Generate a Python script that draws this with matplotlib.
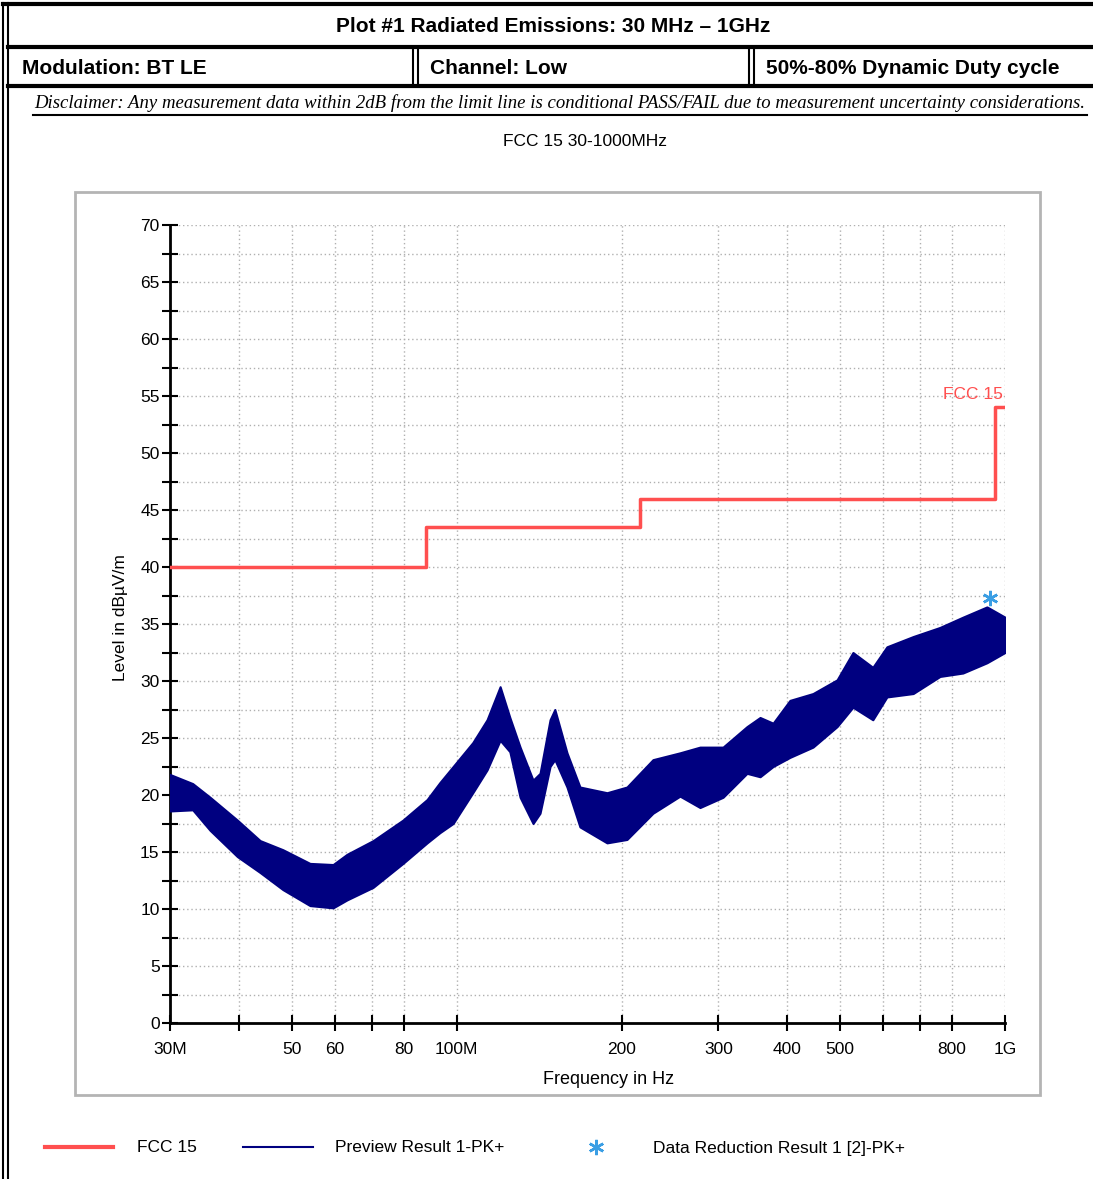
import numpy as np
import matplotlib
matplotlib.use("Agg")
import matplotlib.pyplot as plt
from matplotlib.ticker import FixedLocator, FixedFormatter, NullFormatter

W, H = 1093, 1179

# ── Data ──────────────────────────────────────────────────
limit_freq = [30, 88, 88, 216, 216, 960, 960, 1000]
limit_level = [40, 40, 43.5, 43.5, 46, 46, 54, 54]

# envelope of the preview trace (MHz, dBuV/m)
trace_freq = [30, 33, 35.5, 39.8, 43.8, 48.2, 54, 59.5, 63.1, 70.4, 79.8,
              88.3, 93.2, 98.5, 107, 113.6, 120, 125, 130.5, 137.8, 141.9,
              148, 151, 158.9, 167.8, 188, 204.4, 228, 255.4, 277.8, 306,
              338.4, 357.5, 377.6, 405.3, 446.5, 494, 528, 574, 609, 680,
              761, 838, 927, 1000]
trace_hi = [21.8, 21.0, 19.8, 17.8, 16.0, 15.2, 14.0, 13.9, 14.8, 16.0, 17.8,
            19.6, 21.1, 22.5, 24.6, 26.6, 29.5, 26.8, 24.2, 21.3, 21.9,
            26.6, 27.5, 23.7, 20.7, 20.2, 20.7, 23.1, 23.7, 24.2, 24.2,
            26.0, 26.8, 26.3, 28.3, 28.9, 30.1, 32.5, 31.2, 33.0, 33.9,
            34.7, 35.6, 36.5, 35.6]
trace_lo = [18.6, 18.7, 16.9, 14.6, 13.2, 11.7, 10.3, 10.1, 10.8, 11.9, 14.0,
            15.8, 16.7, 17.5, 20.2, 22.2, 24.8, 23.8, 19.8, 17.5, 18.4,
            22.5, 23.1, 20.7, 17.2, 15.8, 16.1, 18.4, 19.9, 18.9, 19.8,
            21.9, 21.6, 22.5, 23.3, 24.2, 26.0, 27.7, 26.6, 28.6, 28.9,
            30.4, 30.7, 31.6, 32.5]

peak_freq = [939]
peak_level = [37.3]

y_major = list(range(0, 75, 5))
y_minor = [v + 2.5 for v in range(0, 70, 5)]
x_major = [30, 50, 60, 80, 100, 200, 300, 400, 500, 800, 1000]
x_labels = ["30M", "50", "60", "80", "100M", "200", "300", "400", "500", "800", "1G"]
x_minor = [40, 70, 600, 700]

RED = "#ff4f4f"
NAVY = "#000080"
STAR = "#3a9ee4"
SANS = ["Liberation Sans", "DejaVu Sans"]
SERIF = ["Liberation Serif", "DejaVu Serif"]

plt.rcParams["font.family"] = SANS

fig = plt.figure(figsize=(W / 100, H / 100), dpi=100)

# ── Overlay in pixel coordinates for the report header ───
ov = fig.add_axes([0, 0, 1, 1])
ov.set_xlim(0, W)
ov.set_ylim(H, 0)
ov.axis("off")

# frame lines
ov.plot([3, 3], [3, H], color="black", lw=1.5)
ov.plot([8, 8], [3, H], color="black", lw=1.5)
ov.plot([3, W], [4, 4], color="black", lw=3)
ov.plot([8, W], [47, 47], color="black", lw=3)
ov.plot([8, W], [86, 86], color="black", lw=3)
for xs in (413, 418, 749, 754):
    ov.plot([xs, xs], [47, 86], color="black", lw=1.5)

ov.text(553, 27, "Plot #1 Radiated Emissions: 30 MHz \u2013 1GHz", ha="center", va="center",
        fontsize=15, fontweight="bold")
ov.text(22, 68, "Modulation: BT LE", ha="left", va="center", fontsize=15, fontweight="bold")
ov.text(430, 68, "Channel: Low", ha="left", va="center", fontsize=15, fontweight="bold")
ov.text(766, 68, "50%-80% Dynamic Duty cycle", ha="left", va="center",
        fontsize=15, fontweight="bold")
ov.text(560, 103, "Disclaimer: Any measurement data within 2dB from the limit line is "
        "conditional PASS/FAIL due to measurement uncertainty considerations.",
        ha="center", va="center", fontsize=13.5, style="italic", family=SERIF)
ov.plot([33, 1087], [115, 115], color="black", lw=1.5)

# plot frame (grey box)
ov.add_patch(plt.Rectangle((75, 192), 965, 903, fill=False, edgecolor="#b4b4b4", lw=2))

ov.text(585, 141, "FCC 15 30-1000MHz", ha="center", va="center", fontsize=12.5)
ov.text(609, 1080, "Frequency in Hz", ha="center", va="center", fontsize=13)
ov.text(120, 618, "Level in dB\u00b5V/m", ha="center", va="center", fontsize=12.5,
        rotation=90)

# legend
ov.plot([45, 113], [1147, 1147], color=RED, lw=3)
ov.text(137, 1148, "FCC 15", ha="left", va="center", fontsize=12.5)
ov.plot([243, 313], [1147, 1147], color=NAVY, lw=1.5)
ov.text(335, 1148, "Preview Result 1-PK+", ha="left", va="center", fontsize=12.5)
ov.plot([596], [1147], marker=(6, 2, 0), ms=11, mec=STAR, mew=1.8, ls="none")
ov.text(653, 1148, "Data Reduction Result 1 [2]-PK+", ha="left", va="center", fontsize=12.5)

# ── Main chart ────────────────────────────────────────────
ax = fig.add_axes([170 / W, 1 - 1023 / H, 835 / W, 798 / H])
ax.set_xscale("log")
ax.set_xlim(30, 1000)
ax.set_ylim(0, 70)

ax.fill_between(trace_freq, trace_lo, trace_hi, color=NAVY, lw=1.5, zorder=3)
ax.plot(limit_freq, limit_level, color=RED, lw=2.5, zorder=4)
ax.plot(peak_freq, peak_level, marker=(6, 2, 0), ms=11, mec=STAR, mew=1.8,
        ls="none", zorder=5)
ax.text(770, 55.1, "FCC 15", color=RED, fontsize=12.5, ha="left", va="center",
        clip_on=False, zorder=6)

ax.xaxis.set_major_locator(FixedLocator(x_major))
ax.xaxis.set_major_formatter(FixedFormatter(x_labels))
ax.xaxis.set_minor_locator(FixedLocator(x_minor))
ax.xaxis.set_minor_formatter(NullFormatter())
ax.yaxis.set_major_locator(FixedLocator(y_major))
ax.yaxis.set_minor_locator(FixedLocator(y_minor))

for s in ("top", "right"):
    ax.spines[s].set_visible(False)
for s in ("left", "bottom"):
    ax.spines[s].set_linewidth(2)

ax.tick_params(which="both", direction="inout", length=11, width=1.5, labelsize=12.5)
ax.tick_params(axis="x", which="major", pad=8)
ax.tick_params(axis="y", which="major", pad=2)
ax.grid(True, which="both", color="#b0b0b0", linestyle=(0, (1, 2)), lw=1)
ax.set_axisbelow(True)

fig.savefig("out.png", dpi=100, facecolor="white")
